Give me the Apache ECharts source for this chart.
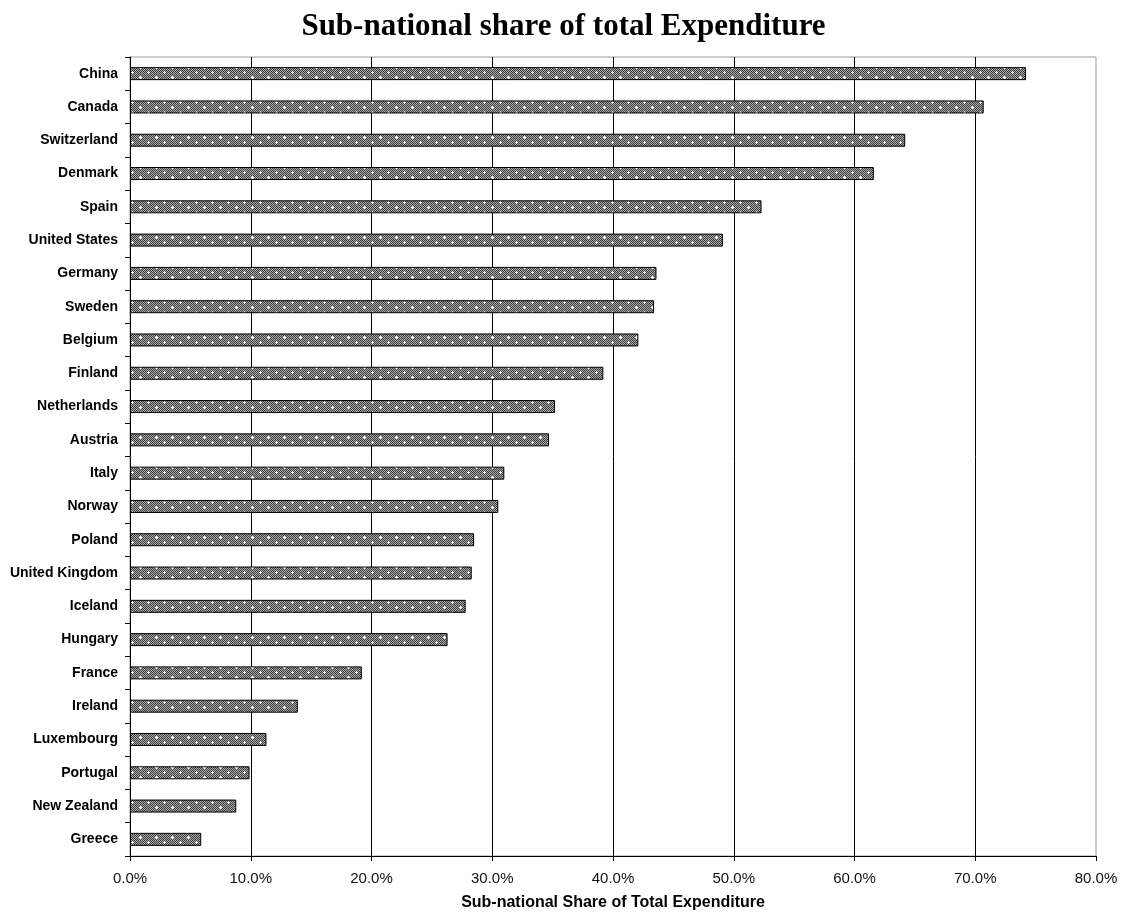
<!DOCTYPE html>
<html>
<head>
<meta charset="utf-8">
<title>Sub-national share of total Expenditure</title>
<script src="https://cdn.jsdelivr.net/npm/echarts@6/dist/echarts.min.js"></script>
<style>
  html, body { margin: 0; padding: 0; background: #fff; }
  #chart { width: 1127px; height: 919px; }
</style>
</head>
<body>
<div id="chart"></div>
<script>
// Countries, top to bottom
const countries = [
  'China', 'Canada', 'Switzerland', 'Denmark', 'Spain', 'United States',
  'Germany', 'Sweden', 'Belgium', 'Finland', 'Netherlands', 'Austria',
  'Italy', 'Norway', 'Poland', 'United Kingdom', 'Iceland', 'Hungary',
  'France', 'Ireland', 'Luxembourg', 'Portugal', 'New Zealand', 'Greece'
];

// Sub-national share of total expenditure, percent
const shares = [
  74.2, 70.7, 64.2, 61.6, 52.3, 49.1,
  43.6, 43.4, 42.1, 39.2, 35.2, 34.7,
  31.0, 30.5, 28.5, 28.3, 27.8, 26.3,
  19.2, 13.9, 11.3, 9.9, 8.8, 5.9
];

// Axis range and step, percent
const axisMin = 0;
const axisMax = 80;
const axisStep = 10;

// Grey checker fill with small white crosses for the bars
function makeBarPattern() {
  const w = 16, h = 10;
  const c = document.createElement('canvas');
  c.width = w; c.height = h;
  const ctx = c.getContext('2d');
  for (let y = 0; y < h; y++) {
    for (let x = 0; x < w; x++) {
      ctx.fillStyle = ((x + y) % 2 === 0) ? '#3c3c3c' : '#ababab';
      ctx.fillRect(x, y, 1, 1);
    }
  }
  ctx.fillStyle = '#ffffff';
  const crosses = [[4, 2], [12, 7]];
  crosses.forEach(([cx, cy]) => {
    ctx.fillRect(cx - 1, cy, 3, 1);
    ctx.fillRect(cx, cy - 1, 1, 3);
  });
  return c;
}

const chart = echarts.init(document.getElementById('chart'), null, { renderer: 'canvas' });

chart.setOption({
  animation: false,
  backgroundColor: '#ffffff',
  title: {
    text: 'Sub-national share of total Expenditure',
    left: 'center',
    top: 6,
    textStyle: {
      fontFamily: '"Liberation Serif", "Times New Roman", serif',
      fontWeight: 'bold',
      fontSize: 31,
      color: '#000'
    }
  },
  grid: {
    left: 130,
    right: 31,
    top: 57,
    bottom: 63,
    containLabel: false,
    outerBoundsMode: 'none',
    show: true,
    borderColor: '#9a9a9a',
    borderWidth: 1,
    backgroundColor: 'transparent'
  },
  xAxis: {
    type: 'value',
    min: axisMin,
    max: axisMax,
    interval: axisStep,
    name: 'Sub-national Share of Total Expenditure',
    nameLocation: 'middle',
    nameGap: 39,
    nameTextStyle: {
      fontFamily: '"Liberation Sans", Arial, sans-serif',
      fontWeight: 'bold',
      fontSize: 16,
      color: '#000'
    },
    axisLine: { show: true, lineStyle: { color: '#000', width: 1 } },
    axisTick: { show: true, length: 5, lineStyle: { color: '#000' } },
    axisLabel: {
      margin: 15,
      fontFamily: '"Liberation Sans", Arial, sans-serif',
      fontSize: 15,
      color: '#111',
      formatter: v => v.toFixed(1) + '%'
    },
    splitLine: {
      show: true,
      showMinLine: false,
      showMaxLine: false,
      lineStyle: { color: '#000', width: 1 }
    }
  },
  yAxis: {
    type: 'category',
    data: countries,
    inverse: true,
    boundaryGap: true,
    axisLine: { show: true, lineStyle: { color: '#000', width: 1 } },
    axisTick: { show: true, length: 5, inside: false, lineStyle: { color: '#000' } },
    axisLabel: {
      margin: 12,
      fontFamily: '"Liberation Sans", Arial, sans-serif',
      fontWeight: 'bold',
      fontSize: 14,
      color: '#000'
    },
    splitLine: { show: false }
  },
  series: [{
    type: 'bar',
    data: shares,
    barWidth: 13,
    itemStyle: {
      color: { image: makeBarPattern(), repeat: 'repeat' },
      borderColor: '#000',
      borderWidth: 1
    },
    emphasis: { disabled: true }
  }]
});
</script>
</body>
</html>
